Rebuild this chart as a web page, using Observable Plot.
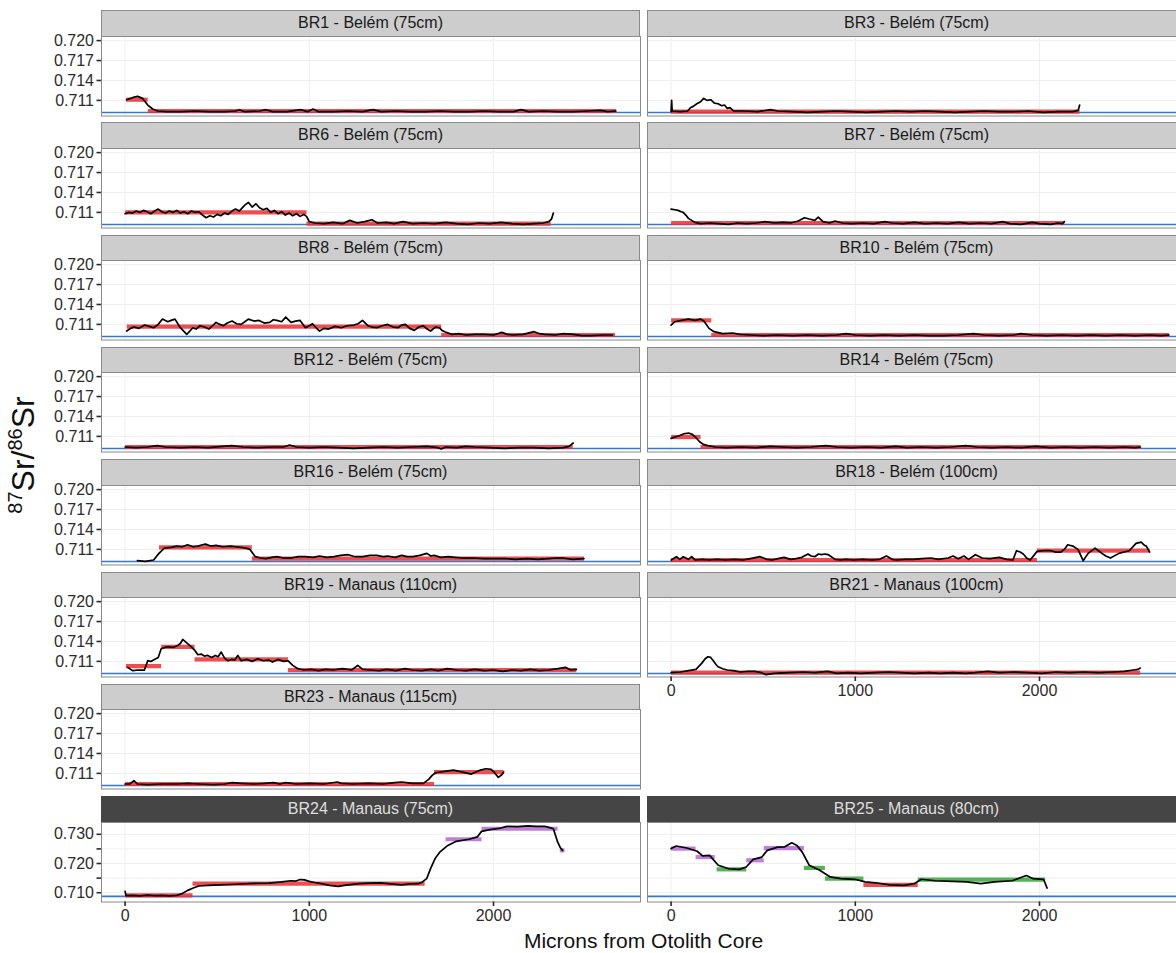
<!DOCTYPE html>
<html><head><meta charset="utf-8">
<script src="https://cdn.jsdelivr.net/npm/d3@7"></script>
<script src="https://cdn.jsdelivr.net/npm/@observablehq/plot@0.6"></script>
<style>
body{margin:0;background:#fff;overflow:hidden;font-family:"Liberation Sans",Arial,sans-serif;}
#wrap{position:relative;width:1176px;height:953px;overflow:hidden;background:#fff;}
.strip{position:absolute;box-sizing:border-box;border:1px solid #8a8a8a;background:#cdcdcd;color:#1a1a1a;font-size:16px;text-align:center;white-space:nowrap;}
.strip.dark{background:#454545;color:#dedede;border-color:#454545;}
.panel{position:absolute;}
#ytitle{position:absolute;left:23px;top:455px;transform:translate(-50%,-50%) rotate(-90deg);font-size:32px;color:#111;white-space:nowrap;}
#ytitle sup{font-size:20px;}
#xtitle{position:absolute;left:643.5px;top:929px;transform:translateX(-50%);font-size:21px;color:#111;white-space:nowrap;line-height:24px;}
</style></head><body><div id="wrap"></div>
<script>
// ---------- data ----------
const titles = ["BR1 - Belém (75cm)","BR3 - Belém (75cm)","BR6 - Belém (75cm)","BR7 - Belém (75cm)",
  "BR8 - Belém (75cm)","BR10 - Belém (75cm)","BR12 - Belém (75cm)","BR14 - Belém (75cm)",
  "BR16 - Belém (75cm)","BR18 - Belém (100cm)","BR19 - Manaus (110cm)","BR21 - Manaus (100cm)",
  "BR23 - Manaus (115cm)","BR24 - Manaus (75cm)","BR25 - Manaus (80cm)"];
const xTicks = [0, 1000, 2000];
const yTicksTop = [0.711, 0.714, 0.717, 0.720];
const yTicksBottom = [0.710, 0.715, 0.720, 0.725, 0.730];
const seawaterTop = 0.70918;
const seawaterBottom = 0.70874;

// profiles: [microns, 87Sr/86Sr]
const br1 = [[8,0.7111],[30,0.7113],[50,0.7115],[68,0.7116],[95,0.7113],[123,0.7103],[150,0.7097],[177,0.7094],[230,0.7093],[300,0.7093],[380,0.7094],[460,0.7093],[540,0.7093],[600,0.7094],[620,0.7096],[650,0.7093],[730,0.7094],[765,0.7096],[800,0.7093],[880,0.7093],[955,0.7096],[990,0.7093],[1020,0.7097],[1050,0.7093],[1130,0.7093],[1210,0.7094],[1290,0.7093],[1346,0.7096],[1390,0.7093],[1470,0.7094],[1550,0.7093],[1630,0.7093],[1710,0.7094],[1790,0.7093],[1870,0.7093],[1950,0.7094],[2030,0.7093],[2110,0.7093],[2150,0.7096],[2190,0.7093],[2270,0.7094],[2350,0.7093],[2430,0.7093],[2510,0.7094],[2580,0.7095],[2620,0.7093],[2665,0.7094]];
const br3 = [[0,0.7093],[3,0.7110],[6,0.7094],[50,0.7093],[90,0.7094],[105,0.7099],[120,0.7101],[140,0.7105],[160,0.7108],[177,0.7113],[195,0.7110],[215,0.7111],[235,0.7106],[255,0.7105],[275,0.7102],[290,0.7103],[305,0.7098],[320,0.7099],[340,0.7094],[400,0.7094],[470,0.7093],[539,0.7096],[580,0.7094],[660,0.7093],[740,0.7092],[820,0.7093],[900,0.7094],[980,0.7093],[1060,0.7092],[1140,0.7093],[1220,0.7094],[1300,0.7093],[1380,0.7094],[1460,0.7093],[1540,0.7092],[1620,0.7093],[1700,0.7094],[1780,0.7093],[1860,0.7093],[1940,0.7094],[2020,0.7092],[2100,0.7093],[2180,0.7093],[2210,0.7095],[2218,0.7103]];
const br6 = [[0,0.7108],[20,0.7110],[40,0.7109],[60,0.7112],[80,0.7110],[100,0.7113],[120,0.7111],[140,0.7108],[160,0.7112],[180,0.7115],[200,0.7111],[220,0.7109],[240,0.7112],[260,0.7110],[280,0.7113],[300,0.7109],[320,0.7111],[340,0.7108],[360,0.7112],[380,0.7110],[400,0.7111],[420,0.7106],[440,0.7102],[460,0.7105],[480,0.7103],[500,0.7107],[520,0.7105],[540,0.7109],[560,0.7107],[580,0.7112],[600,0.7115],[620,0.7112],[650,0.7121],[670,0.7125],[690,0.7118],[710,0.7123],[730,0.7117],[750,0.7114],[770,0.7116],[790,0.7110],[810,0.7113],[830,0.7108],[850,0.7111],[870,0.7106],[890,0.7109],[910,0.7105],[930,0.7108],[950,0.7104],[970,0.7107],[985,0.7104],[1000,0.7096],[1030,0.7094],[1080,0.7093],[1130,0.7095],[1180,0.7093],[1220,0.7098],[1260,0.7094],[1300,0.7096],[1340,0.7099],[1370,0.7094],[1420,0.7095],[1460,0.7093],[1510,0.7096],[1560,0.7093],[1620,0.7094],[1680,0.7093],[1740,0.7095],[1800,0.7093],[1860,0.7092],[1920,0.7094],[1980,0.7093],[2040,0.7095],[2100,0.7093],[2160,0.7092],[2220,0.7093],[2270,0.7094],[2300,0.7096],[2315,0.7100],[2325,0.7109]];
const br7 = [[0,0.7115],[20,0.7114],[38,0.7113],[55,0.7111],[66,0.7110],[80,0.7106],[94,0.7101],[112,0.7098],[130,0.7095],[160,0.7093],[210,0.7094],[260,0.7093],[310,0.7092],[360,0.7094],[410,0.7093],[460,0.7094],[510,0.7096],[560,0.7094],[610,0.7095],[650,0.7094],[690,0.7097],[724,0.7102],[750,0.7100],[780,0.7098],[799,0.7103],[825,0.7096],[860,0.7094],[890,0.7097],[930,0.7094],[980,0.7093],[1040,0.7094],[1100,0.7093],[1160,0.7096],[1200,0.7094],[1260,0.7093],[1320,0.7095],[1380,0.7093],[1440,0.7094],[1500,0.7093],[1560,0.7095],[1620,0.7093],[1680,0.7094],[1740,0.7093],[1800,0.7096],[1840,0.7093],[1900,0.7092],[1960,0.7095],[2000,0.7093],[2060,0.7092],[2100,0.7094],[2125,0.7093],[2135,0.7096]];
const br8 = [[9,0.7100],[30,0.7104],[48,0.7106],[75,0.7104],[106,0.7109],[130,0.7107],[155,0.7105],[180,0.7110],[203,0.7118],[232,0.7114],[250,0.7116],[271,0.7118],[300,0.7105],[335,0.7095],[368,0.7105],[385,0.7103],[407,0.7108],[430,0.7106],[455,0.7103],[475,0.7108],[494,0.7113],[515,0.7110],[533,0.7108],[555,0.7112],[581,0.7115],[605,0.7111],[630,0.7110],[650,0.7114],[669,0.7118],[700,0.7115],[727,0.7116],[755,0.7112],[785,0.7113],[805,0.7117],[824,0.7116],[850,0.7114],[872,0.7121],[901,0.7113],[925,0.7115],[950,0.7116],[979,0.7105],[1000,0.7108],[1017,0.7111],[1040,0.7104],[1056,0.7100],[1080,0.7104],[1105,0.7103],[1140,0.7107],[1173,0.7105],[1205,0.7108],[1241,0.7109],[1265,0.7111],[1289,0.7116],[1318,0.7108],[1340,0.7106],[1367,0.7105],[1395,0.7108],[1425,0.7110],[1455,0.7106],[1483,0.7105],[1500,0.7109],[1522,0.7110],[1545,0.7104],[1570,0.7101],[1595,0.7106],[1619,0.7108],[1640,0.7103],[1658,0.7100],[1685,0.7106],[1706,0.7105],[1720,0.7101],[1735,0.7099],[1774,0.7095],[1810,0.7096],[1851,0.7094],[1900,0.7095],[1948,0.7095],[2000,0.7094],[2045,0.7098],[2075,0.7095],[2103,0.7094],[2160,0.7095],[2220,0.7099],[2250,0.7096],[2278,0.7095],[2336,0.7094],[2380,0.7096],[2433,0.7095],[2480,0.7093],[2530,0.7093],[2590,0.7094],[2646,0.7094]];
const br10 = [[0,0.7109],[20,0.7114],[57,0.7116],[94,0.7118],[131,0.7116],[159,0.7118],[178,0.7115],[206,0.7104],[233,0.7099],[280,0.7096],[335,0.7097],[373,0.7095],[430,0.7094],[500,0.7093],[580,0.7094],[660,0.7093],[740,0.7094],[820,0.7093],[900,0.7094],[950,0.7096],[1000,0.7094],[1080,0.7093],[1160,0.7094],[1240,0.7093],[1320,0.7094],[1400,0.7093],[1480,0.7093],[1560,0.7094],[1640,0.7096],[1700,0.7094],[1780,0.7093],[1860,0.7094],[1900,0.7096],[1960,0.7094],[2040,0.7093],[2120,0.7094],[2200,0.7093],[2280,0.7094],[2360,0.7093],[2440,0.7094],[2520,0.7093],[2600,0.7094],[2660,0.7093],[2703,0.7094]];
const br12 = [[0,0.7094],[60,0.7093],[120,0.7094],[175,0.7096],[220,0.7094],[300,0.7093],[380,0.7094],[450,0.7093],[530,0.7095],[580,0.7096],[640,0.7094],[720,0.7093],[800,0.7094],[860,0.7094],[893,0.7097],[930,0.7094],[1000,0.7093],[1080,0.7094],[1160,0.7093],[1240,0.7092],[1320,0.7093],[1400,0.7094],[1480,0.7093],[1560,0.7094],[1640,0.7095],[1700,0.7093],[1716,0.7091],[1740,0.7094],[1800,0.7093],[1850,0.7095],[1900,0.7094],[1980,0.7093],[2060,0.7092],[2140,0.7093],[2220,0.7093],[2300,0.7092],[2380,0.7093],[2410,0.7095],[2433,0.7100]];
const br14 = [[0,0.7107],[20,0.7109],[45,0.7111],[70,0.7114],[95,0.7115],[115,0.7113],[135,0.7108],[155,0.7102],[175,0.7098],[200,0.7096],[240,0.7094],[300,0.7093],[380,0.7094],[460,0.7093],[540,0.7095],[600,0.7094],[680,0.7093],[760,0.7094],[840,0.7096],[900,0.7094],[980,0.7093],[1060,0.7094],[1140,0.7093],[1220,0.7095],[1280,0.7093],[1360,0.7094],[1440,0.7093],[1520,0.7094],[1600,0.7096],[1660,0.7094],[1740,0.7093],[1820,0.7094],[1900,0.7093],[1980,0.7095],[2060,0.7093],[2140,0.7094],[2220,0.7093],[2300,0.7094],[2380,0.7093],[2460,0.7094],[2520,0.7093],[2548,0.7094]];
const br16 = [[67,0.7093],[110,0.7092],[155,0.7094],[184,0.7104],[213,0.7112],[250,0.7113],[281,0.7115],[310,0.7114],[339,0.7117],[368,0.7114],[397,0.7115],[420,0.7117],[436,0.7118],[465,0.7115],[494,0.7116],[530,0.7114],[572,0.7115],[600,0.7114],[630,0.7113],[655,0.7112],[678,0.7110],[707,0.7099],[735,0.7097],[765,0.7096],[795,0.7098],[824,0.7099],[860,0.7097],[901,0.7097],[940,0.7099],[979,0.7099],[1020,0.7098],[1056,0.7100],[1095,0.7098],[1134,0.7099],[1170,0.7101],[1211,0.7102],[1250,0.7099],[1289,0.7099],[1330,0.7101],[1367,0.7101],[1400,0.7099],[1425,0.7100],[1465,0.7098],[1502,0.7101],[1530,0.7099],[1561,0.7099],[1600,0.7101],[1638,0.7104],[1660,0.7100],[1677,0.7101],[1715,0.7098],[1754,0.7099],[1790,0.7098],[1832,0.7097],[1890,0.7097],[1948,0.7096],[2005,0.7096],[2065,0.7096],[2120,0.7095],[2181,0.7096],[2240,0.7095],[2297,0.7096],[2340,0.7097],[2375,0.7097],[2430,0.7095],[2491,0.7096]];
const br18 = [[1,0.7094],[29,0.7099],[47,0.7095],[66,0.7099],[94,0.7095],[112,0.7099],[131,0.7094],[170,0.7095],[205,0.7094],[250,0.7095],[298,0.7094],[340,0.7095],[391,0.7094],[430,0.7096],[483,0.7099],[520,0.7095],[548,0.7094],[580,0.7096],[613,0.7098],[650,0.7095],[678,0.7096],[710,0.7098],[743,0.7103],[760,0.7100],[780,0.7099],[800,0.7103],[817,0.7102],[835,0.7103],[854,0.7102],[891,0.7095],[920,0.7094],[947,0.7095],[990,0.7094],[1040,0.7095],[1090,0.7094],[1132,0.7095],[1169,0.7100],[1200,0.7095],[1225,0.7094],[1270,0.7095],[1318,0.7095],[1360,0.7096],[1411,0.7097],[1450,0.7095],[1504,0.7097],[1530,0.7100],[1559,0.7096],[1590,0.7100],[1615,0.7095],[1652,0.7102],[1689,0.7097],[1730,0.7096],[1782,0.7098],[1820,0.7095],[1856,0.7094],[1875,0.7108],[1895,0.7106],[1912,0.7103],[1930,0.7097],[1949,0.7094],[1970,0.7101],[1986,0.7107],[2020,0.7108],[2060,0.7108],[2090,0.7106],[2116,0.7106],[2135,0.7110],[2153,0.7117],[2181,0.7115],[2209,0.7110],[2237,0.7093],[2264,0.7104],[2302,0.7112],[2320,0.7108],[2339,0.7104],[2360,0.7100],[2385,0.7097],[2431,0.7104],[2460,0.7106],[2487,0.7108],[2524,0.7119],[2552,0.7121],[2570,0.7116],[2580,0.7115],[2598,0.7106]];
const br19 = [[14,0.7101],[30,0.7098],[42,0.7096],[70,0.7097],[105,0.7097],[123,0.7111],[140,0.7110],[159,0.7113],[180,0.7116],[196,0.7129],[215,0.7131],[232,0.7132],[260,0.7131],[286,0.7134],[300,0.7137],[313,0.7143],[330,0.7139],[355,0.7133],[377,0.7127],[395,0.7120],[413,0.7121],[430,0.7118],[449,0.7119],[470,0.7116],[490,0.7119],[505,0.7117],[522,0.7124],[540,0.7115],[558,0.7111],[580,0.7113],[595,0.7112],[612,0.7119],[630,0.7111],[660,0.7113],[690,0.7110],[720,0.7114],[750,0.7111],[780,0.7112],[800,0.7109],[830,0.7113],[860,0.7110],[884,0.7111],[910,0.7104],[938,0.7099],[970,0.7097],[1010,0.7098],[1050,0.7096],[1090,0.7098],[1130,0.7097],[1180,0.7099],[1230,0.7097],[1263,0.7104],[1290,0.7098],[1330,0.7097],[1380,0.7096],[1420,0.7098],[1470,0.7096],[1520,0.7099],[1560,0.7097],[1610,0.7096],[1660,0.7098],[1700,0.7096],[1750,0.7099],[1800,0.7097],[1850,0.7096],[1900,0.7098],[1950,0.7096],[2000,0.7097],[2050,0.7095],[2100,0.7097],[2150,0.7096],[2200,0.7098],[2250,0.7096],[2300,0.7097],[2350,0.7099],[2390,0.7101],[2420,0.7097],[2450,0.7098]];
const br21 = [[0,0.7093],[50,0.7094],[95,0.7096],[135,0.7098],[166,0.7107],[185,0.7114],[200,0.7117],[215,0.7116],[226,0.7112],[245,0.7105],[255,0.7102],[280,0.7099],[305,0.7097],[340,0.7096],[375,0.7094],[420,0.7095],[455,0.7095],[490,0.7093],[515,0.7090],[560,0.7092],[640,0.7093],[720,0.7094],[780,0.7093],[850,0.7095],[900,0.7092],[960,0.7093],[1030,0.7092],[1100,0.7093],[1180,0.7094],[1250,0.7093],[1320,0.7092],[1400,0.7093],[1460,0.7092],[1530,0.7093],[1600,0.7092],[1650,0.7093],[1720,0.7095],[1780,0.7093],[1860,0.7094],[1940,0.7093],[2010,0.7092],[2090,0.7094],[2160,0.7093],[2240,0.7094],[2320,0.7093],[2400,0.7094],[2460,0.7095],[2510,0.7097],[2535,0.7098],[2547,0.7100]];
const br23 = [[0,0.7094],[25,0.7094],[48,0.7099],[67,0.7094],[120,0.7093],[200,0.7094],[280,0.7094],[339,0.7095],[397,0.7094],[480,0.7093],[540,0.7094],[581,0.7096],[630,0.7095],[700,0.7094],[760,0.7095],[804,0.7096],[840,0.7094],[872,0.7096],[930,0.7094],[1000,0.7095],[1080,0.7094],[1153,0.7097],[1173,0.7095],[1240,0.7094],[1320,0.7095],[1400,0.7094],[1463,0.7096],[1502,0.7097],[1560,0.7095],[1619,0.7095],[1648,0.7101],[1667,0.7107],[1686,0.7111],[1735,0.7113],[1783,0.7115],[1832,0.7112],[1880,0.7109],[1929,0.7115],[1958,0.7117],[1987,0.7116],[2006,0.7111],[2026,0.7104],[2045,0.7108],[2055,0.7112]];
const br24 = [[0,0.7105],[5,0.7090],[40,0.7091],[80,0.7089],[120,0.7092],[160,0.7090],[200,0.7091],[240,0.7089],[280,0.7091],[310,0.7097],[340,0.7108],[370,0.7116],[400,0.7123],[450,0.7125],[516,0.7127],[600,0.7129],[700,0.7132],[780,0.7133],[850,0.7137],[900,0.7141],[928,0.7140],[950,0.7145],[974,0.7144],[1000,0.7139],[1030,0.7135],[1065,0.7131],[1110,0.7125],[1157,0.7122],[1200,0.7126],[1271,0.7131],[1330,0.7133],[1386,0.7134],[1440,0.7130],[1500,0.7127],[1550,0.7130],[1592,0.7131],[1614,0.7137],[1637,0.7148],[1660,0.7185],[1683,0.7217],[1710,0.7240],[1752,0.7262],[1798,0.7276],[1867,0.7283],[1912,0.7291],[1935,0.7310],[1981,0.7316],[2030,0.7320],[2073,0.7327],[2130,0.7326],[2187,0.7329],[2230,0.7327],[2279,0.7327],[2310,0.7322],[2325,0.7319],[2348,0.7274],[2362,0.7255],[2375,0.7245]];
const br25 = [[0,0.7251],[28,0.7260],[85,0.7253],[142,0.7242],[171,0.7226],[209,0.7228],[256,0.7194],[313,0.7182],[370,0.7180],[408,0.7188],[446,0.7214],[493,0.7222],[522,0.7245],[579,0.7256],[617,0.7257],[655,0.7271],[683,0.7262],[712,0.7239],[750,0.7194],[807,0.7177],[864,0.7154],[921,0.7148],[997,0.7146],[1054,0.7137],[1111,0.7134],[1187,0.7127],[1263,0.7125],[1320,0.7131],[1358,0.7146],[1434,0.7141],[1529,0.7139],[1605,0.7137],[1681,0.7131],[1757,0.7137],[1852,0.7141],[1928,0.7159],[1966,0.7148],[2022,0.7146],[2041,0.7116]];

// segment means: [from, to, value, cluster]
const br1Seg = [[5,123,0.7111,1],[123,2665,0.7094,1]];
const br3Seg = [[0,2218,0.7093,1]];
const br6Seg = [[0,985,0.7110,1],[985,2310,0.7093,1]];
const br7Seg = [[0,2135,0.7094,1]];
const br8Seg = [[9,1716,0.71065,1],[1716,2660,0.7094,1]];
const br10Seg = [[0,218,0.7116,1],[218,2703,0.7094,1]];
const br12Seg = [[0,2430,0.7094,1]];
const br14Seg = [[0,160,0.7109,1],[160,2548,0.7094,1]];
const br16Seg = [[184,688,0.7113,1],[688,2491,0.7096,1]];
const br18Seg = [[0,1986,0.7094,1],[1986,2598,0.7108,1]];
const br19Seg = [[5,196,0.7103,1],[196,377,0.7132,1],[377,884,0.7113,1],[884,2450,0.7097,1]];
const br21Seg = [[0,2547,0.7093,1]];
const br23Seg = [[0,1677,0.7094,1],[1677,2055,0.7112,1]];
const br24Seg = [[0,366,0.7091,1],[366,1626,0.7131,1],[1740,1935,0.7283,2],[1935,2348,0.7319,2],[2360,2385,0.7245,2]];
const br25Seg = [[0,133,0.7251,2],[133,237,0.7222,2],[247,408,0.7180,3],[408,503,0.7211,2],[503,721,0.7253,2],[721,835,0.7185,3],[835,1044,0.7148,3],[1044,1339,0.7127,1],[1339,2031,0.7145,3]];

// ---------- layout ----------
const profiles = [br1,br3,br6,br7,br8,br10,br12,br14,br16,br18,br19,br21,br23,br24,br25];
const segments = [br1Seg,br3Seg,br6Seg,br7Seg,br8Seg,br10Seg,br12Seg,br14Seg,br16Seg,br18Seg,br19Seg,br21Seg,br23Seg,br24Seg,br25Seg];
const clusterColor = {1: "#ec2f33", 2: "#b468cf", 3: "#35a637"};

const wrap = document.getElementById("wrap");
const PW = 539, PH = 79.5, STRIP = 25.5, PITCH = 112.3, TOP0 = 10;
const colLeft = [101, 647];

titles.forEach((title, i) => {
  const bottomGroup = i >= 13;
  const row = bottomGroup ? 7 : Math.floor(i / 2);
  const col = bottomGroup ? i - 13 : i % 2;
  const stripTop = TOP0 + row * PITCH;
  const plotTop = stripTop + STRIP;
  const showY = col === 0;
  const showX = bottomGroup || i === 11;
  const ml = showY ? 101 : 0;
  const mb = showX ? 30 : 0;

  const strip = document.createElement("div");
  strip.className = "strip" + (bottomGroup ? " dark" : "");
  strip.style.left = colLeft[col] + "px";
  strip.style.top = stripTop + "px";
  strip.style.width = PW + "px";
  strip.style.height = (STRIP + 1) + "px";
  strip.style.lineHeight = (STRIP - 1) + "px";
  strip.textContent = title;
  wrap.appendChild(strip);

  const yDomain = bottomGroup ? [0.70682, 0.73404] : [0.70865, 0.72062];
  const yTicks = bottomGroup ? yTicksBottom : yTicksTop;
  const sea = bottomGroup ? seawaterBottom : seawaterTop;
  const segData = segments[i].map(s => ({x1: s[0], x2: s[1], y: s[2], c: s[3]}));
  const lineData = profiles[i].map(p => ({x: p[0], y: p[1]}));
  const fmt = bottomGroup
    ? (d => (Math.round(d * 1000) % 10 === 0 ? d3.format(".3f")(d) : ""))
    : d3.format(".3f");

  const marks = [
    Plot.gridY(yTicks, {stroke: "#efefef", strokeOpacity: 1, strokeWidth: 1}),
    Plot.gridX(xTicks, {stroke: "#efefef", strokeOpacity: 1, strokeWidth: 1}),
    Plot.ruleY([sea], {stroke: "#3479cc", strokeWidth: 1.7}),
    Plot.link(segData, {x1: "x1", x2: "x2", y1: "y", y2: "y", stroke: d => clusterColor[d.c], strokeWidth: 4.2, strokeOpacity: 0.85}),
    Plot.line(lineData, {x: "x", y: "y", stroke: "#000", strokeWidth: 1.7, strokeLinejoin: "round"}),
    Plot.frame({stroke: "#8a8a8a", strokeWidth: 1})
  ];
  if (showY) marks.push(Plot.axisY({ticks: yTicks, tickFormat: fmt, tickSize: 4.5, tickPadding: 3, strokeWidth: 1.6, label: null, fontSize: 16}));
  if (showX) marks.push(Plot.axisX({ticks: xTicks, tickFormat: d3.format("d"), tickSize: 4.5, tickPadding: 3, strokeWidth: 1.6, label: null, fontSize: 16}));

  const svg = Plot.plot({
    width: PW + ml, height: PH + mb,
    marginLeft: ml, marginRight: 0, marginTop: 0, marginBottom: mb,
    x: {domain: [-128, 2798], axis: showX ? undefined : null},
    y: {domain: yDomain, axis: showY ? undefined : null},
    style: {fontFamily: "Liberation Sans, Arial, sans-serif", color: "#2b2b2b", background: "transparent", overflow: "visible"},
    marks
  });
  svg.classList.add("panel");
  svg.style.position = "absolute";
  svg.style.left = (colLeft[col] - ml) + "px";
  svg.style.top = plotTop + "px";
  wrap.appendChild(svg);
});

const yt = document.createElement("div");
yt.id = "ytitle";
yt.innerHTML = "<sup>87</sup>Sr/<sup>86</sup>Sr";
wrap.appendChild(yt);
const xt = document.createElement("div");
xt.id = "xtitle";
xt.textContent = "Microns from Otolith Core";
wrap.appendChild(xt);
</script></body></html>
